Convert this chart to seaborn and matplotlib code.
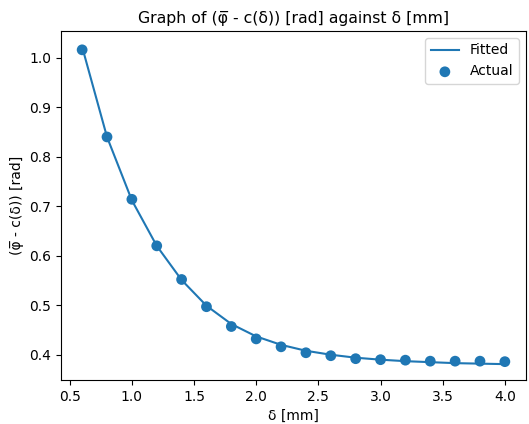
import matplotlib
matplotlib.use("Agg")
import matplotlib.pyplot as plt
import seaborn as sns
import pandas as pd

delta = [0.6, 0.8, 1.0, 1.2, 1.4, 1.6, 1.8, 2.0, 2.2, 2.4, 2.6, 2.8, 3.0, 3.2, 3.4, 3.6, 3.8, 4.0]
actual = [1.016, 0.840, 0.714, 0.620, 0.552, 0.497, 0.457, 0.432, 0.416, 0.404, 0.398, 0.392,
          0.390, 0.389, 0.387, 0.387, 0.387, 0.386]
fitted = [1.022, 0.840, 0.712, 0.620, 0.551, 0.499, 0.462, 0.437, 0.420, 0.408, 0.400, 0.394,
          0.390, 0.387, 0.385, 0.383, 0.382, 0.381]

df = pd.DataFrame({"delta": delta, "actual": actual, "fitted": fitted})

fig = plt.figure(figsize=(5.29, 4.24), dpi=100)
ax = fig.add_axes([61 / 529, 1 - 380 / 424, 465 / 529, 349 / 424])

sns.lineplot(data=df, x="delta", y="fitted", ax=ax, color="#1f77b4", label="Fitted", linewidth=1.5)
sns.scatterplot(data=df, x="delta", y="actual", ax=ax, color="#1f77b4", label="Actual",
                s=60, linewidth=0, edgecolor="none")

ax.set_title("Graph of (\u03c6\u0305 - c(\u03b4)) [rad] against \u03b4 [mm]", fontsize=11.3)
ax.set_xlabel("\u03b4 [mm]", fontsize=10)
ax.set_ylabel("(\u03c6\u0305 - c(\u03b4)) [rad]", fontsize=10)
ax.tick_params(labelsize=10)
ax.set_xticks([0.5, 1.0, 1.5, 2.0, 2.5, 3.0, 3.5, 4.0])
ax.set_yticks([0.4, 0.5, 0.6, 0.7, 0.8, 0.9, 1.0])
ax.legend(loc="upper right", fontsize=10)

fig.savefig("out.png", dpi=100)
